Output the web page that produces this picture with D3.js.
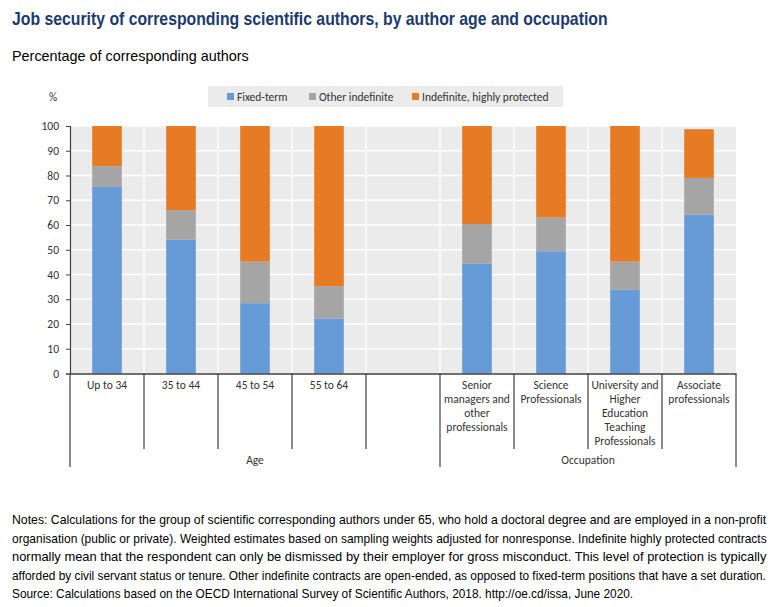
<!DOCTYPE html>
<html>
<head>
<meta charset="utf-8">
<script src="https://cdn.jsdelivr.net/npm/d3@7"></script>
<style>
  html, body { margin: 0; padding: 0; background: #ffffff; }
  svg { display: block; }
</style>
</head>
<body>
<svg id="chart" width="780" height="607"></svg>
<script>
// ---------------- DATA ----------------
const categories = ["Up to 34", "35 to 44", "45 to 54", "55 to 64", "",
  "Senior|managers and|other|professionals", "Science|Professionals",
  "University and|Higher|Education|Teaching|Professionals", "Associate|professionals"];
const fixedTerm   = [75.4, 54.0, 28.4, 22.2, null, 44.3, 49.4, 33.8, 64.2];
const otherIndef  = [8.4, 12.0, 16.8, 13.1, null, 16.1, 13.6, 11.4, 14.8];
const indefHigh   = [16.2, 34.0, 54.8, 64.7, null, 39.6, 37.0, 54.8, 19.7];
const seriesNames = ["Fixed-term", "Other indefinite", "Indefinite, highly protected"];
const groups = [
  { name: "Age", from: 0, to: 4 },
  { name: "Occupation", from: 5, to: 8 }
];
const yTicks = [0, 10, 20, 30, 40, 50, 60, 70, 80, 90, 100];
const titleText = "Job security of corresponding scientific authors, by author age and occupation";
const subtitleText = "Percentage of corresponding authors";
const noteLines = [
  "Notes: Calculations for the group of scientific corresponding authors under 65, who hold a doctoral degree and are employed in a non-profit",
  "organisation (public or private). Weighted estimates based on sampling weights adjusted for nonresponse. Indefinite highly protected contracts",
  "normally mean that the respondent can only be dismissed by their employer for gross misconduct. This level of protection is typically",
  "afforded by civil servant status or tenure. Other indefinite contracts are open-ended, as opposed to fixed-term positions that have a set duration.",
  "Source: Calculations based on the OECD International Survey of Scientific Authors, 2018. http://oe.cd/issa, June 2020."
];

// ---------------- STYLE ----------------
const colors = ["#669bd7", "#a5a5a5", "#e67b24"];
const plot = { left: 70, right: 736, top: 126, bottom: 373.5 };
const labelFont = "Carlito, Lato, 'Liberation Sans', sans-serif";
const narrowFont = "'Liberation Sans Narrow', 'Arial Narrow', 'Liberation Sans', Arial, sans-serif";
const textColor = "#333333";

const svg = d3.select("#chart");

// Text squeezed horizontally to a target width (keeps real bounding box)
function fitText(parent, str, x0, yb, width, attrs) {
  const g = parent.append("g");
  const t = g.append("text").attr("x", 0).attr("y", 0).text(str);
  Object.entries(attrs).forEach(([k, v]) => t.attr(k, v));
  const natural = t.node().getComputedTextLength();
  const s = width / natural;
  g.attr("transform", `translate(${x0},${yb}) scale(${s},1)`);
  return t;
}

// Title & subtitle
fitText(svg, titleText, 12, 25, 596,
  { "font-family": narrowFont, "font-weight": "bold", "font-size": 18, "fill": "#1c3a70" });
fitText(svg, subtitleText, 12, 61, 237,
  { "font-family": narrowFont, "font-size": 15, "fill": "#000" });

// Scales
const keys = categories.map((c, i) => "c" + i);
const x = d3.scaleBand().domain(keys).range([plot.left, plot.right]).paddingInner(0).paddingOuter(0);
const y = d3.scaleLinear().domain([0, 100]).range([plot.bottom, plot.top]);

// Plot background
svg.append("rect").attr("x", plot.left).attr("y", plot.top)
  .attr("width", plot.right - plot.left).attr("height", plot.bottom - plot.top)
  .attr("fill", "#ebebeb");

// Horizontal gridlines
svg.append("g").selectAll("line").data(yTicks.filter(d => d > 0)).join("line")
  .attr("x1", plot.left).attr("x2", plot.right)
  .attr("y1", d => y(d)).attr("y2", d => y(d))
  .attr("stroke", "#ffffff").attr("stroke-width", 1.3);
// Vertical gridlines at category boundaries
svg.append("g").selectAll("line").data(keys.slice(1)).join("line")
  .attr("x1", d => x(d)).attr("x2", d => x(d))
  .attr("y1", plot.top).attr("y2", plot.bottom)
  .attr("stroke", "#ffffff").attr("stroke-width", 1.3);

// Stacked bars
const rows = keys.map((k, i) => ({ key: k, f: fixedTerm[i], o: otherIndef[i], h: indefHigh[i] }))
  .filter(r => r.f !== null);
const stack = d3.stack().keys(["f", "o", "h"]);
const stacked = stack(rows);
const barW = x.bandwidth() * 0.4;
svg.append("g").selectAll("g").data(stacked).join("g")
  .attr("fill", (d, i) => colors[i])
  .selectAll("rect").data(d => d).join("rect")
  .attr("x", d => x(d.data.key) + (x.bandwidth() - barW) / 2)
  .attr("width", barW)
  .attr("y", d => y(d[1]))
  .attr("height", d => y(d[0]) - y(d[1]));

// Y axis
const yAxis = d3.axisLeft(y).tickValues(yTicks).tickSize(4).tickPadding(7);
const gy = svg.append("g").attr("transform", `translate(${plot.left},0)`).call(yAxis);
gy.select(".domain").attr("stroke", "#404040").attr("stroke-width", 1.2);
gy.selectAll(".tick line").attr("stroke", "#404040");
gy.selectAll(".tick text").attr("font-family", labelFont).attr("font-size", 11.5).attr("fill", textColor);
svg.append("text").attr("x", 53).attr("y", 101).attr("text-anchor", "middle")
  .attr("font-family", labelFont).attr("font-size", 11.5).attr("fill", textColor).text("%");

// X axis (line only, labels custom multi-line)
const xAxis = d3.axisBottom(x).tickValues([]).tickSizeOuter(0);
const gx = svg.append("g").attr("transform", `translate(0,${plot.bottom})`).call(xAxis);
gx.select(".domain").attr("stroke", "#404040").attr("stroke-width", 1.4);

// Category dividers
const boundaries = keys.map(k => x(k)).concat([plot.right]);
const groupEdges = new Set([x(keys[groups[0].from]), x(keys[groups[1].from]), plot.right]);
svg.append("g").selectAll("line").data(boundaries).join("line")
  .attr("x1", d => d).attr("x2", d => d)
  .attr("y1", plot.bottom).attr("y2", d => groupEdges.has(d) ? 467 : 449)
  .attr("stroke", "#404040").attr("stroke-width", 1.2);

// Category labels
const lab = svg.append("g").attr("font-family", labelFont).attr("font-size", 11.5)
  .attr("fill", textColor).attr("text-anchor", "middle");
categories.forEach((c, i) => {
  if (!c) return;
  const cx = x(keys[i]) + x.bandwidth() / 2;
  const t = lab.append("text").attr("x", cx).attr("y", 389);
  c.split("|").forEach((line, j) => {
    t.append("tspan").attr("x", cx).attr("dy", j === 0 ? 0 : 14).text(line);
  });
});
// Group labels
groups.forEach(g => {
  const x0 = x(keys[g.from]), x1 = x(keys[g.to]) + x.bandwidth();
  lab.append("text").attr("x", (x0 + x1) / 2).attr("y", 464).text(g.name);
});

// Legend
const leg = svg.append("g");
leg.append("rect").attr("x", 208).attr("y", 86).attr("width", 355).attr("height", 21).attr("fill", "#ebebeb");
const legX = [227, 309, 412];
seriesNames.forEach((n, i) => {
  leg.append("rect").attr("x", legX[i]).attr("y", 93).attr("width", 7).attr("height", 7).attr("fill", colors[i]);
  leg.append("text").attr("x", legX[i] + 10).attr("y", 100.5)
    .attr("font-family", labelFont).attr("font-size", 11.5).attr("fill", textColor).text(n);
});

// Notes
const noteY = [524, 542.5, 561, 579.5, 598];
const noteLen = [755, 755, 755, 755, 622];
noteLines.forEach((l, i) => {
  fitText(svg, l, 12, noteY[i], noteLen[i],
    { "font-family": narrowFont, "font-size": 13, "fill": "#000" });
});
</script>
</body>
</html>
